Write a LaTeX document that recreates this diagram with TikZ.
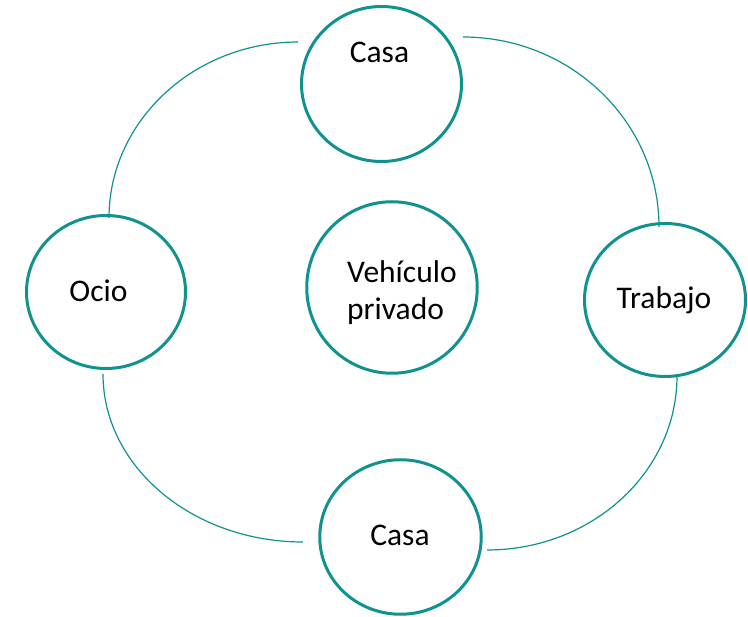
\documentclass[tikz,border=0pt]{standalone}
\usepackage{fontspec}
\setmainfont{Carlito}
\usetikzlibrary{shapes.geometric}
\definecolor{tealc}{RGB}{16,146,143}
\begin{document}
\begin{tikzpicture}[x=1pt,y=-1pt,
  ring/.style={draw=tealc, line width=3pt, ellipse, inner sep=0pt},
  link/.style={draw=tealc, line width=1.2pt},
  lbl/.style={font=\fontsize{31.5}{38}\selectfont, text=black, inner sep=0pt, anchor=base}]
\useasboundingbox (0,0) rectangle (748,617);
% circles
\node[ring, minimum width=160pt, minimum height=155pt] (casaT) at (381.5,84) {};
\node[ring, minimum width=159pt, minimum height=153pt] (ocio) at (106,292) {};
\node[ring, minimum width=161pt, minimum height=153pt] (trab) at (665,300) {};
\node[ring, minimum width=161.5pt, minimum height=154.5pt] (casaB) at (400.5,537) {};
\node[ring, minimum width=170.5pt, minimum height=171.5pt] (veh) at (392,287.5) {};
% labels
\node[lbl] (tCasaT) at (379.5,63) {Casa};
\node[lbl] (tOcio) at (98.5,302) {Ocio};
\node[lbl] (tTrab) at (664,309) {Trabajo};
\node[lbl] (tCasaB) at (400,546) {Casa};
\node[lbl, anchor=base west] (tVeh1) at (347,283) {Vehículo};
\node[lbl, anchor=base west] (tVeh2) at (347,320) {privado};
% arc end points
\coordinate (a1s) at (298,42);
\coordinate (a1e) at (109,218);
\coordinate (a2s) at (463,37);
\coordinate (a2e) at (659,227);
\coordinate (a3s) at (677,376);
\coordinate (a3e) at (487,550);
\coordinate (a4s) at (103,374);
\coordinate (a4e) at (303,542);
% arcs
\draw[link] (a1s) .. controls (194,42) and (109,121) .. (a1e);
\draw[link] (a2s) .. controls (571,37) and (659,122) .. (a2e);
\draw[link] (a3s) .. controls (677,472) and (592,550) .. (a3e);
\draw[link] (a4s) .. controls (103,467) and (193,542) .. (a4e);
\end{tikzpicture}
\end{document}
